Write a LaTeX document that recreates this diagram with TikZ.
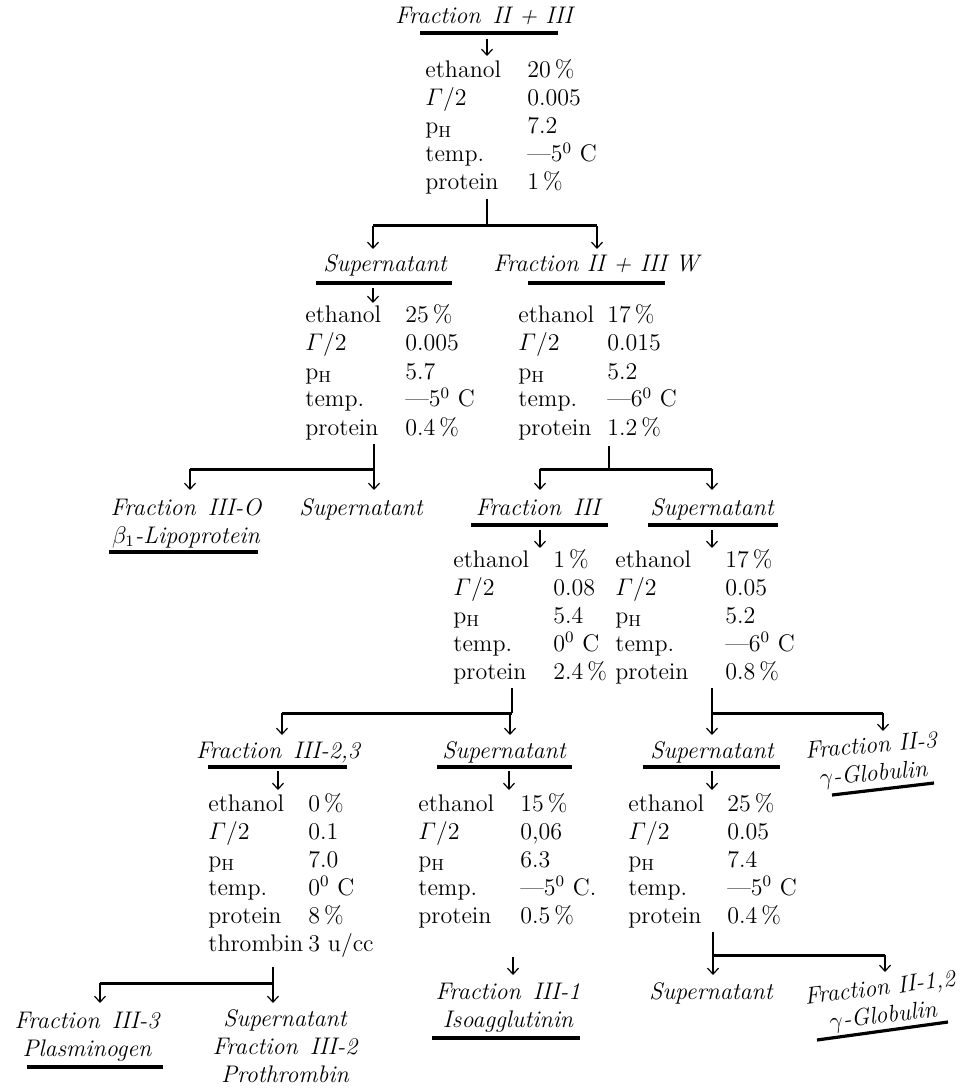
\documentclass[tikz,border=0pt]{standalone}
\usepackage{amsmath}
\usetikzlibrary{arrows.meta}

% one row of a conditions block: fixed label column, then the value
\newcommand{\prow}[3]{\makebox[#1][l]{#2}#3}
% the five usual rows of a conditions block
\newcommand{\pblock}[6]{%
  \prow{#1}{ethanol}{#2}\\
  \prow{#1}{$\varGamma$/2}{#3}\\
  \prow{#1}{p$_{\mathrm{H}}$}{#4}\\
  \prow{#1}{temp.}{#5}\\
  \prow{#1}{protein}{#6}}

\begin{document}
\begin{tikzpicture}[x=0.5pt, y=-0.5pt,
    % --- Styles ---
    fracLabel/.style={
      font=\fontsize{12}{14}\selectfont\itshape,
      inner sep=0pt,
      align=center,
      anchor=base
    },
    paramBlock/.style={
      font=\fontsize{12}{14}\selectfont,
      inner sep=0pt,
      align=left,
      anchor=base west
    },
    underLine/.style={line width=1.6pt},
    splitBar/.style={line width=1.5pt},
    stemLine/.style={line width=0.6pt},
    downArrow/.style={line width=0.6pt, -{Straight Barb[length=3pt,width=5.5pt]}}
]
\useasboundingbox (0,0) rectangle (962,1090);

%=====================
% Level 0: Fraction II + III
%=====================
\node[fracLabel] (frTop) at (484,24) {Fraction\enspace II + III};
\draw[underLine] ([shift={(-64,9)}]frTop.base) -- ([shift={(74,9)}]frTop.base);
\node[paramBlock] (pTop) at (425,190) {\pblock{51pt}{20\,\%}{0.005}{7.2}{---5\textsuperscript{0}~C}{1\,\%}};
\draw[downArrow] ([shift={(3,15)}]frTop.base) -- ([shift={(62,-134)}]pTop.base west);

\coordinate (jTop) at (487,226);
\coordinate (aSupA) at (373,249);
\coordinate (aFrW) at (597,249);
\draw[stemLine] ([yshift=-2pt]jTop |- pTop.south) -- (jTop);
\draw[splitBar] (aSupA |- jTop) -- (aFrW |- jTop);
\draw[downArrow] (aSupA |- jTop) -- (aSupA);
\draw[downArrow] (aFrW |- jTop) -- (aFrW);

%=====================
% Level 1: Supernatant / Fraction II + III W
%=====================
\node[fracLabel] (supA) at (385,272) {Supernatant};
\draw[underLine] ([shift={(-69,11)}]supA.base) -- ([shift={(67,11)}]supA.base);
\node[fracLabel] (frW) at (596,272) {Fraction II + III W};
\draw[underLine] ([shift={(-68,11)}]frW.base) -- ([shift={(69,11)}]frW.base);

\node[paramBlock] (pSupA) at (305,435) {\pblock{50pt}{25\,\%}{0.005}{5.7}{---5\textsuperscript{0}~C}{0.4\,\%}};
\node[paramBlock] (pFrW) at (518,435) {\pblock{44.5pt}{17\,\%}{0.015}{5.2}{---6\textsuperscript{0}~C}{1.2\,\%}};
\draw[downArrow] ([shift={(-12,16)}]supA.base) -- ([shift={(68,-132)}]pSupA.base west);

\coordinate (jSupA) at (374,469);
\coordinate (aFrO) at (190,490);
\coordinate (aSupB) at (374,490);
\draw[stemLine] ([yshift=-2pt]jSupA |- pSupA.south) -- (jSupA);
\draw[splitBar] (aFrO |- jSupA) -- (aSupB |- jSupA);
\draw[downArrow] (aFrO |- jSupA) -- (aFrO);
\draw[downArrow] (aSupB |- jSupA) -- (aSupB);

\coordinate (jFrW) at (609,469);
\coordinate (aFrIII) at (540,490);
\coordinate (aSupC) at (712,490);
\draw[stemLine] ([yshift=-3pt]jFrW |- pFrW.south) -- (jFrW);
\draw[splitBar] (aFrIII |- jFrW) -- (aSupC |- jFrW);
\draw[downArrow] (aFrIII |- jFrW) -- (aFrIII);
\draw[downArrow] (aSupC |- jFrW) -- (aSupC);

%=====================
% Level 2
%=====================
\node[fracLabel] (frO) at (186,543) {Fraction\enspace III-O\\$\beta_1$-Lipoprotein};
\draw[underLine] ([shift={(-77,9)}]frO.base) -- ([shift={(72,9)}]frO.base);
\node[fracLabel] (supB) at (361,515) {Supernatant};
\node[fracLabel] (frIII) at (538,515) {Fraction\enspace III};
\draw[underLine] ([shift={(-67,10)}]frIII.base) -- ([shift={(70,10)}]frIII.base);
\node[fracLabel] (supC) at (712,515) {Supernatant};
\draw[underLine] ([shift={(-64,10)}]supC.base) -- ([shift={(66,10)}]supC.base);

\node[paramBlock] (pFrIII) at (453,679) {\pblock{50pt}{1\,\%}{0.08}{5.4}{0\textsuperscript{0}~C}{2.4\,\%}};
\node[paramBlock] (pSupC) at (615,679) {\pblock{55pt}{17\,\%}{0.05}{5.2}{---6\textsuperscript{0}~C}{0.8\,\%}};
\draw[downArrow] ([shift={(2,15)}]frIII.base) -- ([shift={(87,-131)}]pFrIII.base west);
\draw[downArrow] ([shift={(0,15)}]supC.base) -- ([shift={(97,-131)}]pSupC.base west);

\coordinate (jFrIII) at (512,713);
\coordinate (aFr23) at (282,735);
\coordinate (aSupD) at (510,735);
\draw[stemLine] ([yshift=-2pt]jFrIII |- pFrIII.south) -- (jFrIII);
\draw[splitBar] (aFr23 |- jFrIII) -- (jFrIII);
\draw[downArrow] (aFr23 |- jFrIII) -- (aFr23);
\draw[downArrow] (aSupD |- jFrIII) -- (aSupD);

\coordinate (jSupC) at (712,713);
\coordinate (aSupE) at (712,735);
\coordinate (aFrII3) at (883,731);
\draw[stemLine] ([yshift=-2pt]jSupC |- pSupC.south) -- (jSupC);
\draw[splitBar] (jSupC) -- (aFrII3 |- jSupC);
\draw[downArrow] (aSupE |- jSupC) -- (aSupE);
\draw[downArrow] (aFrII3 |- jSupC) -- (aFrII3);

%=====================
% Level 3
%=====================
\node[fracLabel] (fr23) at (278,758) {Fraction\enspace III-2,3};
\draw[underLine] ([shift={(-70,9)}]fr23.base) -- ([shift={(69,9)}]fr23.base);
\node[fracLabel] (supD) at (504,758) {Supernatant};
\draw[underLine] ([shift={(-67,9)}]supD.base) -- ([shift={(68,9)}]supD.base);
\node[fracLabel] (supE) at (712,758) {Supernatant};
\draw[underLine] ([shift={(-69,9)}]supE.base) -- ([shift={(68,9)}]supE.base);
\node[fracLabel, rotate=5] (frII3) at (874,781) {Fraction II-3\\$\gamma$-Globulin};
\draw[underLine] ([shift={(-42,14)}]frII3.base) -- ([shift={(60,2)}]frII3.base);

\node[paramBlock] (pFr23) at (208,951) {\pblock{50pt}{0\,\%}{0.1}{7.0}{0\textsuperscript{0}~C}{8\,\%}\\\prow{50pt}{thrombin}{3 u/cc}};
\node[paramBlock] (pSupD) at (418,923) {\pblock{51pt}{15\,\%}{0,06}{6.3}{---5\textsuperscript{0}~C.}{0.5\,\%}};
\node[paramBlock] (pSupE) at (628,923) {\pblock{49.5pt}{25\,\%}{0.05}{7.4}{---5\textsuperscript{0}~C}{0.4\,\%}};
\draw[downArrow] ([shift={(0,13)}]fr23.base) -- ([shift={(70,-161)}]pFr23.base west);
\draw[downArrow] ([shift={(5,13)}]supD.base) -- ([shift={(91,-133)}]pSupD.base west);
\draw[downArrow] ([shift={(0,13)}]supE.base) -- ([shift={(84,-133)}]pSupE.base west);

\coordinate (jFr23) at (273,983);
\coordinate (aFr3) at (100,1003);
\coordinate (aSupF) at (273,1003);
\draw[stemLine] ([yshift=-5pt]jFr23 |- pFr23.south) -- (jFr23);
\draw[splitBar] (aFr3 |- jFr23) -- (jFr23);
\draw[downArrow] (aFr3 |- jFr23) -- (aFr3);
\draw[downArrow] (aSupF |- jFr23) -- (aSupF);

\coordinate (jSupE) at (713,955);
\coordinate (aSupG) at (713,975);
\coordinate (aFrII12) at (885,972);
\draw[stemLine] ([yshift=-2pt]jSupE |- pSupE.south) -- (jSupE);
\draw[splitBar] (jSupE) -- (aFrII12 |- jSupE);
\draw[downArrow] (aSupG |- jSupE) -- (aSupG);
\draw[downArrow] (aFrII12 |- jSupE) -- (aFrII12);

%=====================
% Level 4: end products
%=====================
\node[fracLabel] (frIII3) at (87,1056) {Fraction\enspace III-3\\Plasminogen};
\draw[underLine] ([shift={(-60,11)}]frIII3.base) -- ([shift={(76,11)}]frIII3.base);
\node[fracLabel] (supF) at (285,1082) {Supernatant\\Fraction\enspace III-2\\Prothrombin};
\node[fracLabel] (frI) at (508,1027) {Fraction\enspace III-1\\Isoagglutinin};
\draw[underLine] ([shift={(-76,11)}]frI.base) -- ([shift={(72,11)}]frI.base);
\node[fracLabel] (supG) at (711,999) {Supernatant};
\node[fracLabel, rotate=7] (frII12) at (884,1023) {Fraction II-1,2\\$\gamma$-Globulin};
\draw[underLine] ([shift={(-67,17)}]frII12.base) -- ([shift={(64,-1)}]frII12.base);
\draw[downArrow] ([shift={(95,34)}]pSupD.base west) -- ([shift={(5,-52)}]frI.base);

\end{tikzpicture}
\end{document}
